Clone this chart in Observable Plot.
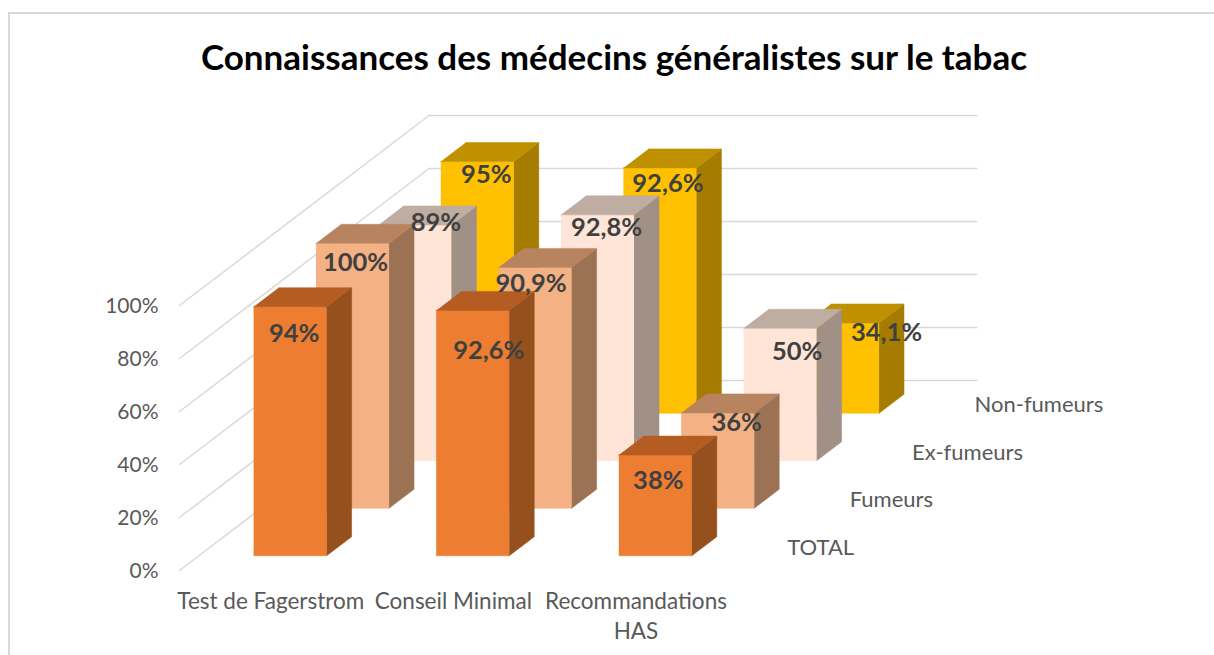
<!DOCTYPE html>
<html lang="fr">
<head>
<meta charset="utf-8">
<script src="https://cdn.jsdelivr.net/npm/d3@7"></script>
<script src="https://cdn.jsdelivr.net/npm/@observablehq/plot@0.6"></script>
<style>
html,body{margin:0;padding:0;background:#fff;overflow:hidden;width:1214px;height:655px}
#frame{position:absolute;left:8px;top:12px;right:0;bottom:0;border-left:2px solid #d9d9d9;border-top:2px solid #d9d9d9}
#title{position:absolute;left:7px;top:0;width:1214px;height:90px;text-align:center;font:bold 35px/113px Lato,sans-serif;color:#000;white-space:nowrap}
#chart{position:absolute;left:0;top:90px}
svg{display:block}
</style>
</head>
<body>
<div id="frame"></div>
<div id="title">Connaissances des médecins généralistes sur le tabac</div>
<div id="chart"></div>
<script>
const categories = ["Test de Fagerstrom", "Conseil Minimal", "Recommandations\nHAS"];
const seriesNames = ["TOTAL", "Fumeurs", "Ex-fumeurs", "Non-fumeurs"];
const total = [94, 92.6, 38];
const fumeurs = [100, 90.9, 36];
const exFumeurs = [89, 92.8, 50];
const nonFumeurs = [95, 92.6, 34.1];
const yTicks = [0, 20, 40, 60, 80, 100];

const seriesValues = [total, fumeurs, exFumeurs, nonFumeurs];
const faceColors = [
  {front: "#ED7D31", top: "#B45C22", side: "#95501D"},
  {front: "#F4B183", top: "#B8835F", side: "#9B7354"},
  {front: "#FEE5D7", top: "#BFADA1", side: "#A09086"},
  {front: "#FFC000", top: "#BF9000", side: "#A67C00"}
];
// label nudges in pixels from the centre of each bar's front top edge [series][category]
const labelNudges = [
  [[4, 27], [16, 40], [3, 26]],
  [[3, 20], [-4, 16], [19, 10]],
  [[21, -2], [9, 13], [17, 24]],
  [[9, 13], [8, 16], [44, 10]]
];

// oblique projection: c = category position, r = depth position, v = percent
const colW = 182.6, svgH = 565, marginLeft = 179, marginBottom = 85, pxPerPct = 2.65;
const kx = 62.4 / colW, ky = 47.5 / pxPerPct;
const X = (c, r) => c + r * kx;
const Y = (r, v) => v + r * ky;

const barW = 0.4, barD = 0.4, barLo = 0.3, depthLo = 0.31;
const faces = [];
// back row first, so that nearer bars cover farther ones
d3.range(seriesValues.length - 1, -1, -1).forEach(r => {
  seriesValues[r].forEach((v, c) => {
    const c0 = c + barLo, c1 = c0 + barW, r0 = r + depthLo, r1 = r0 + barD;
    const col = faceColors[r];
    const add = (name, color, pts) => pts.forEach(([pc, pr, pv]) =>
      faces.push({x: X(pc, pr), y: Y(pr, pv), id: `${r}-${c}-${name}`, color}));
    add("front", col.front, [[c0, r0, 0], [c1, r0, 0], [c1, r0, v], [c0, r0, v]]);
    add("side", col.side, [[c1, r0, 0], [c1, r1, 0], [c1, r1, v], [c1, r0, v]]);
    add("top", col.top, [[c0, r0, v], [c1, r0, v], [c1, r1, v], [c0, r1, v]]);
  });
});

const grid = [];
yTicks.forEach(v => {
  [[0, 0], [0, 4], [3, 4]].forEach(([c, r]) => grid.push({x: X(c, r), y: Y(r, v), v}));
});

const fmt = v => String(v).replace(".", ",") + "%";
const labelMarks = [];
seriesValues.forEach((vals, r) => vals.forEach((v, c) => {
  const [dx, dy] = labelNudges[r][c];
  labelMarks.push(Plot.text([{v}], {
    x: () => X(c + barLo + barW / 2, r + depthLo),
    y: () => Y(r + depthLo, v),
    text: () => fmt(v),
    dx, dy,
    fontSize: 25.5, fontWeight: "bold", fill: "#404040"
  }));
}));

const plot = Plot.plot({
  width: 1214, height: svgH,
  marginLeft, marginRight: 0, marginTop: 0, marginBottom,
  style: {fontFamily: "Lato, sans-serif", background: "transparent", overflow: "visible"},
  x: {domain: [0, (1214 - marginLeft) / colW], range: [marginLeft, 1214], axis: null},
  y: {domain: [0, (svgH - marginBottom) / pxPerPct], axis: null},
  color: {type: "identity"},
  marks: [
    Plot.line(grid, {x: "x", y: "y", z: "v", stroke: "#d9d9d9", strokeWidth: 1.5}),
    Plot.line(faces, {x: "x", y: "y", z: "id", fill: "color", stroke: "color", strokeWidth: 0.5, strokeLinejoin: "miter"}),
    Plot.axisY({ticks: yTicks, tickFormat: d => d + "%", tickSize: 0, tickPadding: 21, dy: 1, fontSize: 21, color: "#595959", label: null}),
    Plot.axisX({ticks: [0.5, 1.5, 2.5], tickFormat: d => categories[d - 0.5], tickSize: 0, tickPadding: 18, fontSize: 22.5, lineHeight: 1.3, color: "#595959", label: null}),
    Plot.text(seriesNames, {
      x: (d, i) => X(3, i), y: (d, i) => Y(i, 0), text: d => d,
      textAnchor: "start", dx: 60, dy: -23, fontSize: 22, fill: "#595959"
    }),
    ...labelMarks
  ]
});
document.getElementById("chart").appendChild(plot);
</script>
</body>
</html>
